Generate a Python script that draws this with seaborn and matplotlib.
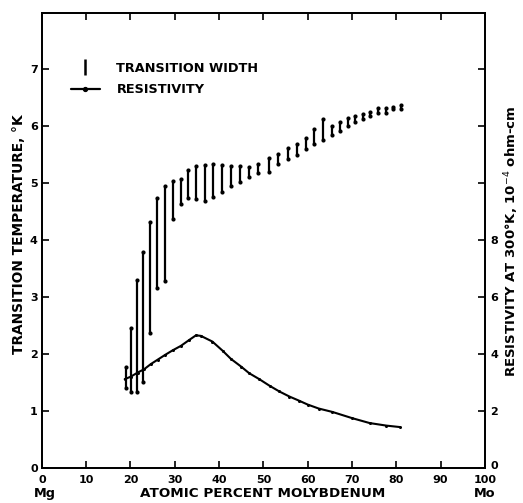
import matplotlib
matplotlib.use("Agg")
import matplotlib.pyplot as plt
import matplotlib.transforms as mtransforms
import seaborn as sns
import pandas as pd
from matplotlib.lines import Line2D

# ---- data ----
tw_x = [18.9, 20.1, 21.4, 22.9, 24.4, 26.1, 27.8, 29.5, 31.4,
        33.0, 34.9, 36.8, 38.7, 40.6, 42.7, 44.7, 46.8, 48.9, 51.2, 53.4, 55.5, 57.6,
        59.7, 61.5, 63.4, 65.4, 67.3, 69.1, 70.8, 72.5, 74.1, 75.9, 77.6, 79.3, 81.0]
tw_low = [1.40, 1.33, 1.33, 1.51, 2.36, 3.15, 3.27, 4.36, 4.63,
          4.73, 4.71, 4.69, 4.76, 4.84, 4.94, 5.01, 5.11, 5.17, 5.19, 5.33, 5.42, 5.49,
          5.59, 5.68, 5.75, 5.84, 5.91, 6.00, 6.06, 6.12, 6.18, 6.23, 6.22, 6.29, 6.30]
tw_high = [1.77, 2.46, 3.30, 3.78, 4.31, 4.73, 4.94, 5.04, 5.06,
           5.23, 5.29, 5.32, 5.33, 5.32, 5.30, 5.29, 5.28, 5.33, 5.43, 5.51, 5.61, 5.68,
           5.78, 5.94, 6.12, 6.00, 6.06, 6.14, 6.18, 6.21, 6.25, 6.31, 6.31, 6.34, 6.36]

res_x = [18.7, 20.1, 21.6, 23.1, 24.6, 26.2, 27.8, 29.5, 31.4, 33.3, 34.8, 35.9,
         38.5, 40.8, 42.7, 45.0, 46.8, 49.1, 51.4, 53.6, 55.9, 58.0, 60.0, 62.5,
         65.6, 70.1, 74.0, 77.8, 80.8]
res_val = [3.11, 3.20, 3.34, 3.46, 3.64, 3.80, 3.96, 4.12, 4.28, 4.49, 4.65, 4.63,
           4.43, 4.11, 3.82, 3.55, 3.32, 3.11, 2.88, 2.68, 2.50, 2.36, 2.22, 2.08,
           1.96, 1.74, 1.57, 1.48, 1.43]

x_ticks = [0, 10, 20, 30, 40, 50, 60, 70, 80, 90, 100]
left_ticks = [0, 1, 2, 3, 4, 5, 6, 7]
right_ticks = [0, 2, 4, 6, 8, 10, 12, 14]
right_labels = ["0", "2", "4", "6", "8", "", "", ""]

# long-form table for the transition width bars
rows = []
for i, (x, lo, hi) in enumerate(zip(tw_x, tw_low, tw_high)):
    rows.append({"bar": i, "x": x, "T": lo})
    rows.append({"bar": i, "x": x, "T": hi})
bars_df = pd.DataFrame(rows)
res_df = pd.DataFrame({"x": res_x, "rho": res_val})

sns.set_theme(style="ticks")
plt.rcParams['font.family'] = ['DejaVu Sans']
plt.rcParams.update({"text.color": "black", "axes.labelcolor": "black",
                     "xtick.color": "black", "ytick.color": "black",
                     "axes.edgecolor": "black"})

fig = plt.figure(figsize=(5.23, 5.03), dpi=100)
ax = fig.add_axes([0.080, 0.070, 0.847, 0.904])

sns.lineplot(data=bars_df, x="x", y="T", units="bar", estimator=None,
             color="black", lw=1.6, marker="o", markersize=3.0,
             markeredgewidth=0, ax=ax, sort=False)

ax2 = ax.twinx()
sns.lineplot(data=res_df, x="x", y="rho", color="black", lw=1.5,
             marker="o", markersize=2.2, markeredgewidth=0, ax=ax2)

ax.set_xlim(0, 100)
ax.set_ylim(0, 7.98)
ax2.set_ylim(0, 15.96)

tick_font = dict(fontsize=8, fontweight="bold", color="black")
ax.set_xticks(x_ticks)
ax.set_xticklabels([str(t) for t in x_ticks], **tick_font)
ax.set_yticks(left_ticks)
ax.set_yticklabels([str(t) for t in left_ticks], **tick_font)
ax2.set_yticks(right_ticks)
ax2.set_yticklabels(right_labels, **tick_font)

ax.tick_params(axis="x", direction="in", length=5, width=1.2, top=True, pad=5,
               colors="black")
ax.tick_params(axis="y", direction="in", length=5, width=1.2, pad=3, colors="black")
ax2.tick_params(axis="y", direction="in", length=5, width=1.2, pad=4, colors="black")

# nudge the right-hand "0" slightly up, as in the original
lbl0 = ax2.get_yticklabels()[0]
lbl0.set_transform(lbl0.get_transform() +
                   mtransforms.ScaledTranslation(0, 2 / 72, fig.dpi_scale_trans))

for a in (ax, ax2):
    for s in a.spines.values():
        s.set_linewidth(1.3)
        s.set_color("black")
        s.set_visible(True)

ax.set_xlabel("")
ax.set_ylabel("")
ax2.set_ylabel("")

fig.text(0.037, 0.535, "TRANSITION TEMPERATURE, °K", rotation=90,
         ha="center", va="center", fontsize=9.9, fontweight="bold", color="black")
fig.text(0.978, 0.52, "RESISTIVITY AT 300°K, 10$^{-4}$ ohm-cm", rotation=90,
         ha="center", va="center", fontsize=9.5, fontweight="bold", color="black")
fig.text(0.503, 0.018, "ATOMIC PERCENT MOLYBDENUM", ha="center", va="center",
         fontsize=9.7, fontweight="bold", color="black")
fig.text(0.086, 0.018, "Mg", ha="center", va="center", fontsize=9.3,
         fontweight="bold", color="black")
fig.text(0.927, 0.018, "Mo", ha="center", va="center", fontsize=9.3,
         fontweight="bold", color="black")

handles = [
    Line2D([], [], color="black", marker="|", linestyle="None",
           markersize=12, markeredgewidth=1.8),
    Line2D([], [], color="black", lw=1.6, marker="o", markersize=2.8),
]
leg = ax.legend(handles, ["TRANSITION WIDTH", "RESISTIVITY"],
                loc="upper left", bbox_to_anchor=(0.04, 0.918),
                frameon=False, handlelength=2.2, handletextpad=1.3,
                labelspacing=0.65, prop=dict(size=9.3, weight="bold"))
for t in leg.get_texts():
    t.set_color("black")

fig.savefig("out.png", dpi=100)
